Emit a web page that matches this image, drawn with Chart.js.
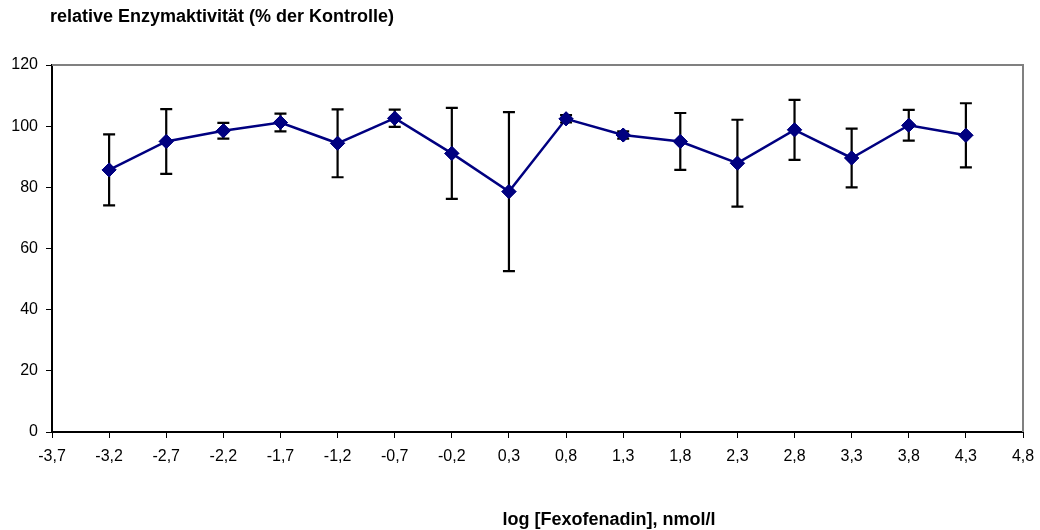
<!DOCTYPE html>
<html>
<head>
<meta charset="utf-8">
<script src="https://cdn.jsdelivr.net/npm/chart.js@4"></script>
<style>
  html, body { margin: 0; padding: 0; background: #fff; }
  #wrap { width: 1040px; height: 530px; }
</style>
</head>
<body>
<div id="wrap"><canvas id="enzymeChart"></canvas></div>
<script>
// log concentration of Fexofenadin (nmol/l)
const logConc = [-3.2, -2.7, -2.2, -1.7, -1.2, -0.7, -0.2, 0.3, 0.8, 1.3, 1.8, 2.3, 2.8, 3.3, 3.8, 4.3];
// mean relative activity, % of control
const activity = [85.7, 95.0, 98.5, 101.2, 94.4, 102.6, 91.1, 78.6, 102.4, 97.1, 95.0, 87.9, 98.8, 89.6, 100.3, 97.0];
// standard deviation for error bars
const activitySd = [11.6, 10.6, 2.6, 2.9, 11.1, 2.8, 14.9, 26.0, 1.2, 1.2, 9.3, 14.2, 9.8, 9.6, 5.0, 10.5];
// x axis tick positions
const xTicks = [-3.7, -3.2, -2.7, -2.2, -1.7, -1.2, -0.7, -0.2, 0.3, 0.8, 1.3, 1.8, 2.3, 2.8, 3.3, 3.8, 4.3, 4.8];

const FONT = "'Liberation Sans', Arial, sans-serif";

// error bars with caps, drawn after the line
const errorBars = {
  id: "errorBars",
  afterDatasetsDraw(chart) {
    const { ctx, scales } = chart;
    const meta = chart.getDatasetMeta(0);
    ctx.save();
    ctx.strokeStyle = "#000";
    ctx.lineWidth = 2.2;
    meta.data.forEach((pt, i) => {
      const x = pt.x;
      const yTop = scales.y.getPixelForValue(activity[i] + activitySd[i]);
      const yBot = scales.y.getPixelForValue(activity[i] - activitySd[i]);
      ctx.beginPath();
      ctx.moveTo(x, yTop);
      ctx.lineTo(x, yBot);
      ctx.moveTo(x - 6, yTop);
      ctx.lineTo(x + 6, yTop);
      ctx.moveTo(x - 6, yBot);
      ctx.lineTo(x + 6, yBot);
      ctx.stroke();
    });
    // redraw markers on top of the bars
    meta.data.forEach((pt) => pt.draw(ctx, chart.chartArea));
    ctx.restore();
  },
};

// grey top/right frame plus the two titles
const frameAndTitles = {
  id: "frameAndTitles",
  beforeDatasetsDraw(chart) {
    const { ctx, chartArea } = chart;
    ctx.save();
    ctx.strokeStyle = "#808080";
    ctx.lineWidth = 2;
    ctx.beginPath();
    ctx.moveTo(chartArea.left, chartArea.top);
    ctx.lineTo(chartArea.right, chartArea.top);
    ctx.lineTo(chartArea.right, chartArea.bottom);
    ctx.stroke();
    ctx.restore();
  },
  afterDraw(chart) {
    const { ctx, chartArea } = chart;
    ctx.save();
    ctx.fillStyle = "#000";
    ctx.font = "bold 18px " + FONT;
    ctx.textBaseline = "middle";
    ctx.textAlign = "left";
    ctx.fillText("relative Enzymaktivität (% der Kontrolle)", chartArea.left - 2, 17);
    ctx.textAlign = "center";
    ctx.fillText("log [Fexofenadin], nmol/l", chartArea.left + 557, 520);
    ctx.restore();
  },
};

document.addEventListener("DOMContentLoaded", function () {
  const ctx = document.getElementById("enzymeChart").getContext("2d");
  new Chart(ctx, {
    type: "line",
    data: {
      datasets: [
        {
          data: logConc.map((x, i) => ({ x: x, y: activity[i] })),
          borderColor: "#000080",
          backgroundColor: "#000080",
          borderWidth: 2.5,
          pointStyle: "rectRot",
          pointRadius: 7,
          pointBorderWidth: 1,
          pointBackgroundColor: "#000080",
          pointBorderColor: "#000080",
          tension: 0,
        },
      ],
    },
    options: {
      responsive: true,
      maintainAspectRatio: false,
      animation: false,
      layout: { padding: { top: 65, right: 17, left: 0, bottom: 0 } },
      plugins: {
        legend: { display: false },
        tooltip: { enabled: false },
        title: { display: false },
      },
      scales: {
        x: {
          type: "linear",
          min: -3.7,
          max: 4.8,
          afterBuildTicks: (scale) => {
            scale.ticks = xTicks.map((v) => ({ value: v }));
          },
          afterFit: (scale) => {
            scale.height = 98;
            scale.paddingLeft = 0;
            scale.paddingRight = 0;
          },
          grid: {
            drawOnChartArea: false,
            drawTicks: true,
            tickLength: 6,
            tickColor: "#000",
            lineWidth: 1,
          },
          border: { color: "#000", width: 2 },
          ticks: {
            color: "#000",
            font: { family: FONT, size: 16 },
            padding: 9,
            maxRotation: 0,
            autoSkip: false,
            callback: (v) => Number(v).toFixed(1).replace(".", ","),
          },
        },
        y: {
          min: 0,
          max: 120,
          afterFit: (scale) => {
            scale.width = 52;
          },
          grid: {
            drawOnChartArea: false,
            drawTicks: true,
            tickLength: 6,
            tickColor: "#000",
            lineWidth: 1,
          },
          border: { color: "#000", width: 2 },
          ticks: {
            stepSize: 20,
            color: "#000",
            font: { family: FONT, size: 16 },
            padding: 8,
          },
        },
      },
    },
    plugins: [frameAndTitles, errorBars],
  });
});
</script>
</body>
</html>
